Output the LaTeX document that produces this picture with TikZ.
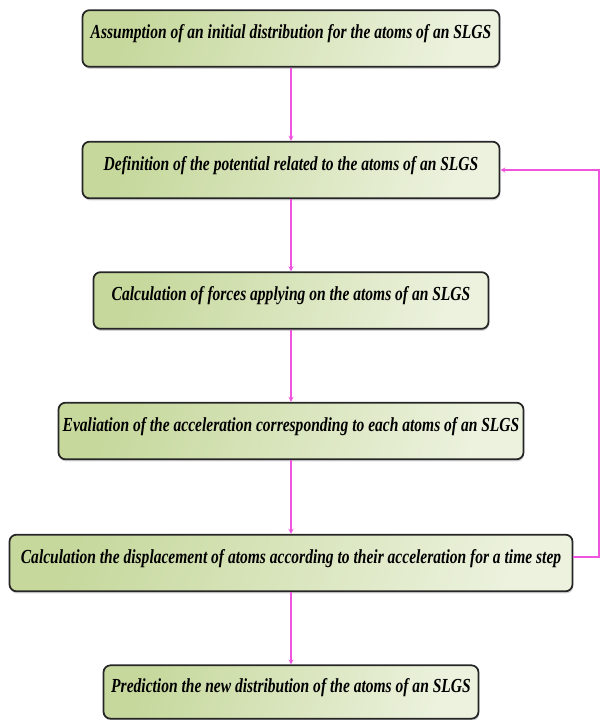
\documentclass[tikz,border=0pt]{standalone}
\usepackage{fontspec}
\setmainfont{Liberation Serif}[FakeStretch=0.78]
\usetikzlibrary{shadows}
\definecolor{boxdark}{RGB}{198,216,156}
\definecolor{boxlight}{RGB}{236,242,222}
\definecolor{flowpink}{RGB}{238,84,222}

\begin{document}
\begin{tikzpicture}[x=0.03cm,y=-0.03cm,
    stepbox/.style={draw=black!85,line width=1.5pt,rounded corners=6pt,
        left color=boxdark,right color=boxlight,shading angle=70,
        drop shadow={shadow xshift=0.6pt,shadow yshift=-1.8pt,opacity=0.35},
        minimum height=1.7cm,inner sep=0pt,text height=0.5cm,text depth=0.5cm,
        font=\fontsize{17}{20}\selectfont\bfseries\itshape},
    flow/.style={draw=flowpink,line width=0.9pt,->,>=stealth}]
    \useasboundingbox (0,0) rectangle (601,720);
    \node[stepbox,minimum width=12.51cm] (init) at (291,38.5) {Assumption of an initial distribution for the atoms of an SLGS};
    \node[stepbox,minimum width=12.51cm] (pot) at (291,170) {Definition of the potential related to the atoms of an SLGS};
    \node[stepbox,minimum width=11.85cm] (force) at (291,300.5) {Calculation of forces applying on the atoms of an SLGS};
    \node[stepbox,minimum width=13.95cm] (acc) at (291,431) {Evaliation of the acceleration corresponding to each atoms of an SLGS};
    \node[stepbox,minimum width=16.89cm] (disp) at (291,563) {Calculation the displacement of atoms according to their acceleration for a time step};
    \node[stepbox,minimum width=11.25cm,minimum height=1.6cm] (pred) at (291,692) {Prediction the new distribution of the atoms of an SLGS};
    \coordinate (back) at (599,0);
    \draw[flow](init) to (pot);
    \draw[flow](pot) to (force);
    \draw[flow](force) to (acc);
    \draw[flow](acc) to (disp);
    \draw[flow](disp) to (pred);
    \draw[flow]([yshift=0.18cm]disp.east) -| (back |- pot.east) to (pot.east);
\end{tikzpicture}
\end{document}
